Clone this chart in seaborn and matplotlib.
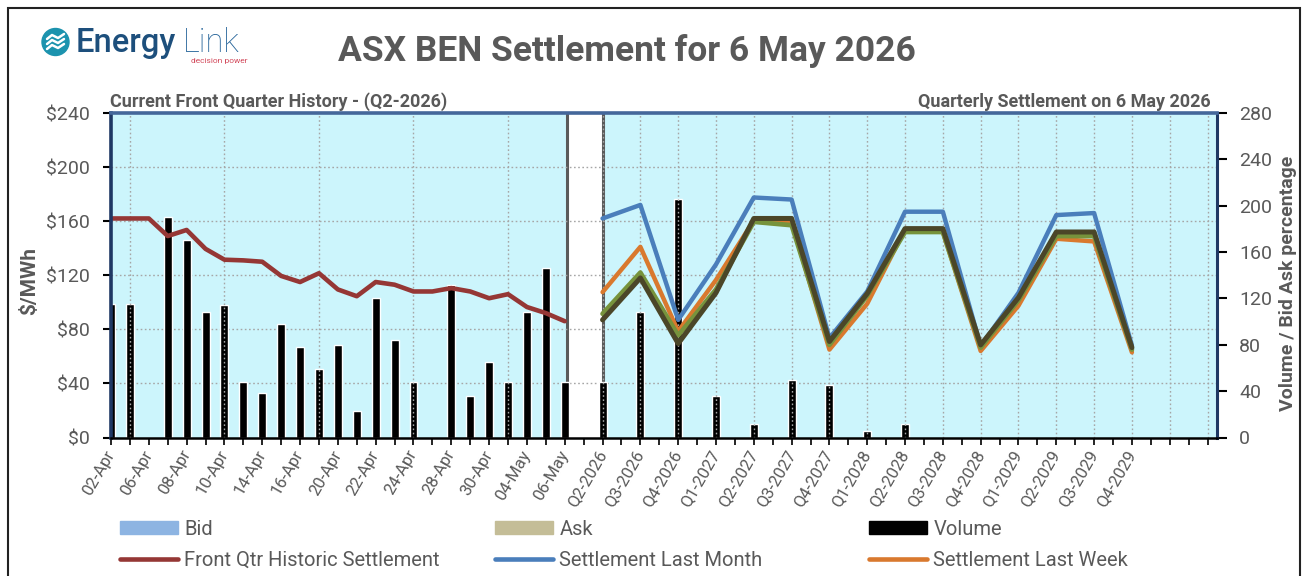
import numpy as np
import pandas as pd
import matplotlib
matplotlib.use("Agg")
import matplotlib.pyplot as plt
import seaborn as sns
from matplotlib.patches import Patch, Rectangle, Circle
from matplotlib.lines import Line2D

# ---------------- data ----------------
days = ['02-Apr', '03-Apr', '06-Apr', '07-Apr', '08-Apr', '09-Apr', '10-Apr', '13-Apr',
        '14-Apr', '15-Apr', '16-Apr', '17-Apr', '20-Apr', '21-Apr', '22-Apr', '23-Apr',
        '24-Apr', '27-Apr', '28-Apr', '29-Apr', '30-Apr', '01-May', '04-May', '05-May', '06-May']
quarters = ['Q2-2026', 'Q3-2026', 'Q4-2026', 'Q1-2027', 'Q2-2027', 'Q3-2027', 'Q4-2027',
            'Q1-2028', 'Q2-2028', 'Q3-2028', 'Q4-2028', 'Q1-2029', 'Q2-2029', 'Q3-2029', 'Q4-2029']

hist_settlement = [162, 162, 162, 149, 153.5, 139.5, 131.5, 131, 130, 119.5, 115, 121.5,
                   109.5, 104.5, 115, 113, 108, 108, 110.5, 108, 103, 106, 96.5, 92, 86]
hist_volume = [115, 115, 0, 190, 170, 108, 114, 48, 38, 98, 78, 59, 80, 23, 120, 84, 48,
               0, 132, 36, 65, 48, 108, 146, 48]
quarter_volume = [48, 108, 206, 36, 12, 50, 45, 6, 12, 0, 0, 0, 0, 0, 0]

settle_last_month = [162, 172, 87, 128, 177.5, 176, 73.5, 108, 167, 167, 67.5, 107, 164.5, 166, 68]
settle_last_week = [107.5, 141, 78.5, 116.5, 160.5, 159.5, 65, 99, 154, 152, 64, 97.5, 147, 145, 63]
settle_yesterday = [91.5, 122, 75.5, 109.5, 159.5, 157, 68.5, 105, 152, 152, 66.5, 101.5, 149, 149, 65]
settle_today = [87, 118, 69.5, 107, 162, 162, 71, 106.5, 154.5, 154.5, 68.5, 103.5, 152, 152, 66.5]

left_ticks = [0, 40, 80, 120, 160, 200, 240]
right_ticks = [0, 40, 80, 120, 160, 200, 240, 280]

# category positions: daily history, one blank slot, then quarters every other slot
n_days = len(days)
day_x = np.arange(n_days)
q_start = n_days + 1
q_x = q_start + 2 * np.arange(len(quarters))
n_slots = 59
tick_labels = [''] * n_slots
for i in range(0, n_days, 2):
    tick_labels[i] = days[i]
for i, q in zip(q_x, quarters):
    tick_labels[i] = q

# ---------------- style ----------------
sns.set_style("white")
plt.rcParams['font.family'] = ['Roboto', 'DejaVu Sans']
GREY = '#595959'

W, H = 1309, 576
fig = plt.figure(figsize=(W / 100, H / 100), dpi=100)

def fx(px):
    return px / W

def fy(py):
    return 1 - py / H

L, R, T, B = 111, 1217, 113, 437.5
ax = fig.add_axes([fx(L), fy(B), fx(R) - fx(L), fy(T) - fy(B)])
axp = ax.twinx()
ax.yaxis.tick_right()
ax.yaxis.set_label_position('right')
axp.yaxis.tick_left()
axp.yaxis.set_label_position('left')

ax.set_facecolor('#CCF5FC')

# separator between history and forward curve
ax.axvspan(24.1, 26, color='white', zorder=0.5, lw=0)
for xv in (24.1, 26):
    ax.axvline(xv, color='#5a5a5a', lw=2.2, zorder=0.6)

# horizontal gridlines (at the $ ticks)
for v in left_ticks[1:-1]:
    ax.axhline(v * 280 / 240, color='#a6a6a6', lw=1, ls=(0, (1.2, 1.8)), zorder=0.7)

# volume bars
vol_df = pd.DataFrame({
    'x': np.concatenate([day_x, q_x]),
    'vol': hist_volume + quarter_volume,
})
sns.barplot(data=vol_df, x='x', y='vol', native_scale=True, color='black',
            width=0.42, errorbar=None, ax=ax, zorder=1, saturation=1)
ax.set_xlabel('')
ax.set_ylabel('')

# vertical gridlines (above bars)
vgrid = [1, 6, 11, 16, 21] + list(range(26, 59, 2))
for xv in vgrid:
    axp.axvline(xv, color='#a6a6a6', lw=1, ls=(0, (1.2, 1.8)), zorder=0.5)

# lines
sns.lineplot(x=day_x, y=hist_settlement, ax=axp, color='#953735', lw=3.3, zorder=3)
sns.lineplot(x=q_x, y=settle_last_month, ax=axp, color='#4A7EBB', lw=3.2, zorder=3)
sns.lineplot(x=q_x, y=settle_last_week, ax=axp, color='#D9792E', lw=3.2, zorder=3.1)
sns.lineplot(x=q_x, y=settle_yesterday, ax=axp, color='#77933C', lw=3.4, zorder=3.2)
sns.lineplot(x=q_x, y=settle_today, ax=axp, color='#4B4628', lw=3.6, zorder=3.3)

# axes limits & ticks
ax.set_xlim(0, 58.5)
axp.set_xlim(0, 58.5)
ax.set_ylim(0, 280)
axp.set_ylim(0, 240)
ax.set_xticks(np.arange(n_slots))
ax.set_xticklabels(tick_labels, rotation=60, ha='right', va='center',
                   rotation_mode='anchor', fontsize=12, color=GREY)
ax.tick_params(axis='x', direction='out', length=5, width=1.2, color='black', pad=5,
               bottom=True)
ax.set_yticks(right_ticks)
ax.set_yticklabels([str(v) for v in right_ticks], fontsize=14, color=GREY)
ax.tick_params(axis='y', direction='out', length=7, width=1.5, color='black', pad=9,
               right=True, left=False)
axp.set_yticks(left_ticks)
axp.set_yticklabels(['$' + str(v) for v in left_ticks], fontsize=14, color=GREY)
axp.tick_params(axis='y', direction='out', length=6, width=1.5, color='black', pad=9,
                left=True, right=False)
axp.set_ylabel('')

for s in ax.spines.values():
    s.set_visible(False)
axp.spines['left'].set_color('#1F3864')
axp.spines['left'].set_linewidth(2.6)
axp.spines['right'].set_color('#1F3864')
axp.spines['right'].set_linewidth(2.2)
axp.spines['top'].set_color('#44679A')
axp.spines['top'].set_linewidth(2.6)
axp.spines['bottom'].set_color('black')
axp.spines['bottom'].set_linewidth(1.8)
for s in axp.spines.values():
    s.set_visible(True)
    s.set_zorder(5)

# ---------------- texts ----------------
fig.text(fx(627), fy(61), 'ASX BEN Settlement for 6 May 2026', ha='center', va='baseline',
         fontsize=25.5, fontweight='bold', color=GREY)
fig.text(fx(110), fy(107), 'Current Front Quarter History - (Q2-2026)', ha='left',
         va='baseline', fontsize=13, fontweight='bold', color=GREY)
fig.text(fx(1211), fy(107), 'Quarterly Settlement on 6 May 2026', ha='right',
         va='baseline', fontsize=13, fontweight='bold', color=GREY)
fig.text(fx(30), fy(281), '$/MWh', rotation=90, ha='center', va='center',
         fontsize=15, fontweight='bold', color=GREY)
fig.text(fx(1288), fy(283), 'Volume / Bid Ask percentage', rotation=90, ha='center',
         va='center', fontsize=14, fontweight='bold', color=GREY)

# logo
tr = fig.dpi_scale_trans
fig.patches.append(Circle((0.555, (H - 42) / 100), 0.135, transform=tr,
                          color='#1C93AE', zorder=5))
for dy in (-5, 0, 5):
    yc = (H - 42 - dy) / 100
    fig.lines.append(Line2D([0.47, 0.52, 0.58, 0.64],
                            [yc - 0.02, yc + 0.02, yc - 0.01, yc + 0.03],
                            transform=tr, color='white', lw=1.8, zorder=6))
t1 = fig.text(fx(76), fy(52), 'Energy', ha='left', va='baseline', fontsize=23.5,
              fontweight='medium', color='#1D4F7C')
fig.canvas.draw()
bb = t1.get_window_extent()
fig.text(bb.x1 / W + fx(7), fy(52), 'Link', ha='left', va='baseline', fontsize=23.5,
         fontweight='light', color='#27659A')
fig.text(fx(248), fy(63), 'decision power', ha='right', va='baseline', fontsize=6,
         color='#D2485A')

# outer frame
fig.patches.append(Rectangle((fx(8), -0.05), fx(1300) - fx(8), fy(8) + 0.05,
                             transform=fig.transFigure, fill=False, ec='#222222', lw=1.5))

# ---------------- legend ----------------
h_bid = Patch(color='#8DB4E2', label='Bid')
h_ask = Patch(color='#C4BD97', label='Ask')
h_vol = Patch(color='black', label='Volume')
h_hist = Line2D([], [], color='#953735', lw=3.3, label='Front Qtr Historic Settlement')
h_month = Line2D([], [], color='#4A7EBB', lw=3.3, label='Settlement Last Month')
h_week = Line2D([], [], color='#D9792E', lw=3.3, label='Settlement Last Week')
for x0, hs in ((120, [h_bid, h_hist]), (495, [h_ask, h_month]), (869, [h_vol, h_week])):
    leg = fig.legend(handles=hs, loc='center left', bbox_to_anchor=(fx(x0), fy(545)),
                     frameon=False, fontsize=14.5, handlelength=2.9, handleheight=0.65,
                     handletextpad=0.3, labelspacing=0.62, borderpad=0, borderaxespad=0)
    for t in leg.get_texts():
        t.set_color(GREY)

fig.savefig('out.png', dpi=100)
